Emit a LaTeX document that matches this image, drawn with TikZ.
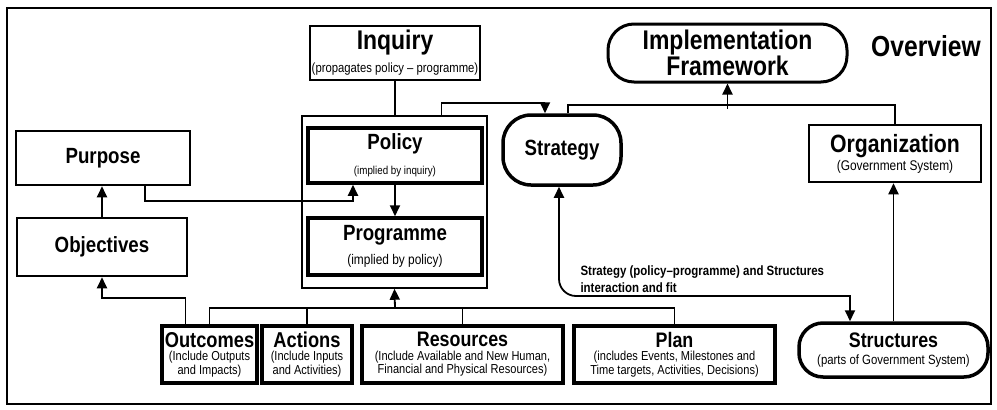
\documentclass[tikz,border=0pt]{standalone}
\usepackage{fontspec}
\setmainfont[FakeStretch=0.85]{Liberation Sans}
\usetikzlibrary{arrows.meta}
\newcommand\hd[2]{{\bfseries\fontsize{#1}{#1}\selectfont #2}}

\begin{document}
\begin{tikzpicture}[x=1pt,y=-1pt,>={Triangle[length=11pt,width=10pt]},
    box/.style={draw,line width=2.5pt,align=center,inner sep=0pt},
    heavy/.style={box,line width=3.5pt},
    pill/.style={heavy,rounded corners=#1},
    row/.style={heavy,minimum height=57pt,font=\fontsize{13}{13.5}\selectfont},
    link/.style={line width=1.8pt}]
    \useasboundingbox (0,0) rectangle (997,410);
    \draw[line width=2pt] (7,8) rectangle (991,404);
    % left column
    \node[box,minimum width=174pt,minimum height=54pt] (purpose) at (103,158) {\hd{22}{Purpose}};
    \node[box,minimum width=170pt,minimum height=58pt] (objectives) at (102,247) {\hd{22}{Objectives}};
    % policy - programme
    \node[box,minimum width=170pt,minimum height=54pt,font=\fontsize{13.3}{23}\selectfont] (inquiry) at (395,53)
        {\hd{27}{Inquiry}\\(propagates policy – programme)};
    \node[draw,line width=1.5pt,minimum width=185pt,minimum height=172pt] (group) at (394.5,202) {};
    \node[heavy,minimum width=174pt,minimum height=55pt,font=\fontsize{11.5}{25}\selectfont] (policy) at (395,155.5)
        {\hd{22}{Policy}\\(implied by inquiry)};
    \node[heavy,minimum width=174pt,minimum height=57pt,font=\fontsize{14}{24}\selectfont] (programme) at (395,246.5)
        {\hd{22}{Programme}\\(implied by policy)};
    % right side
    \node[pill=28pt,minimum width=118pt,minimum height=70pt] (strategy) at (562,150) {\hd{22}{Strategy}};
    \node[pill=26pt,line width=3pt,minimum width=239pt,minimum height=58pt,font=\bfseries\fontsize{27}{25}\selectfont] (impl) at (727.5,53)
        {Implementation\\Framework};
    \node[font=\bfseries\fontsize{29}{29}\selectfont] (overview) at (926,46) {Overview};
    \node[box,minimum width=172pt,minimum height=57pt,font=\fontsize{14}{18}\selectfont] (organization) at (895,153.5)
        {\hd{25}{Organization}\\(Government System)};
    \node[pill=24pt,minimum width=189pt,minimum height=54pt,font=\fontsize{13.4}{17}\selectfont] (structures) at (893.5,350)
        {\hd{21}{Structures}\\(parts of Government System)};
    % bottom row
    \node[row,minimum width=95pt] (outcomes) at (209.5,354.5) {\hd{21.5}{Outcomes}\\(Include Outputs\\and Impacts)};
    \node[row,minimum width=90pt] (actions) at (307,354.5) {\hd{21.5}{Actions}\\(Include Inputs\\and Activities)};
    \node[row,minimum width=201pt] (resources) at (462.5,354.5)
        {\hd{21}{Resources}\\(Include Available and New Human,\\Financial and Physical Resources)};
    \node[row,minimum width=201pt] (plan) at (674.5,354.5)
        {\hd{21}{Plan}\\(includes Events, Milestones and\\Time targets, Activities, Decisions)};
    \node[anchor=west,align=left,font=\bfseries\fontsize{13.5}{17}\selectfont] (fitnote) at (577,279)
        {Strategy (policy–programme) and Structures\\interaction and fit};
    \coordinate (bus) at (395,308);
    \coordinate (fit) at (850,296);
    % connectors
    \draw[link,->] (objectives.north) -- (objectives.north |- purpose.south);
    \draw[link,->] ([xshift=42pt]purpose.south) -- ++(0,15) -| ([xshift=-42pt]policy.south);
    \draw[link] (inquiry.south) -- (inquiry.south |- group.north);
    \draw[link,->] (policy) -- (programme);
    \draw[link,->] ([xshift=47pt]group.north) -- ++(0,-12) -| ([xshift=-17pt]strategy.north);
    \draw[link] ([xshift=6pt]strategy.north) -- ++(0,-8) -| (organization.north);
    \draw[link,->] (impl.south) ++(0,25) -- (impl.south);
    \draw[link,->] (structures.north) -- (structures.north |- organization.south);
    \draw[link,<-,rounded corners=17pt] ([xshift=-3pt]strategy.south) |- (fit);
    \draw[link,->,line cap=rect] (fit) -- (fit |- structures.north);
    \draw[link] (outcomes.north) |- (bus) -| (plan.north);
    \draw[link] (actions.north) -- (actions.north |- bus);
    \draw[link] (resources.north) -- (resources.north |- bus);
    \draw[link,->] (bus) -- (group.south);
    \draw[link,->] ([xshift=-24pt]outcomes.north) -- ++(0,-26) -| (objectives.south);
\end{tikzpicture}
\end{document}
